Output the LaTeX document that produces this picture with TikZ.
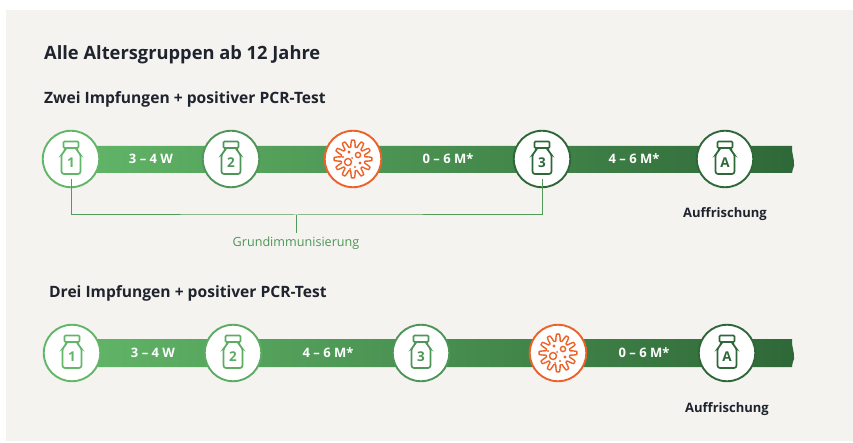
\documentclass[tikz,border=0pt]{standalone}
\usepackage{fontspec}
\setmainfont{Open Sans}
\definecolor{panel_bg}{RGB}{244,243,240}
\definecolor{vacc_a}{RGB}{98,182,104}
\definecolor{vacc_b}{RGB}{78,150,88}
\definecolor{vacc_c}{RGB}{47,104,56}
\definecolor{virus_col}{RGB}{236,98,40}
\definecolor{text_dark}{RGB}{30,35,45}
\tikzset{
    stepnode/.style={shape=circle,draw,line width=1.9pt,fill=white,minimum size=56.5pt,inner sep=0pt},
    weeklabel/.style={text=white,font=\bfseries\fontsize{13}{15}\selectfont},
    headlabel/.style={anchor=west,inner sep=0pt,text=text_dark,font=\bfseries\fontsize{15.6}{18}\selectfont},
    notelabel/.style={text=text_dark,font=\bfseries\fontsize{13}{15}\selectfont},
    vial/.pic={
        \draw[line width=1.7pt,rounded corners=1pt] (-7.5,-17.5) rectangle (7.5,-11);
        \draw[line width=1.7pt,rounded corners=2.5pt] (-6,-11) -- (-6,-8) -- (-9.5,-5) -- (-9.5,15) -- (9.5,15) -- (9.5,-5) -- (6,-8) -- (6,-11);
        \node[font=\bfseries\fontsize{13.5}{14}\selectfont] at (0,4) {\tikzpictext};
    },
    virus/.pic={
        \draw[line width=1.4pt,samples=361,domain=0:360,line join=round] plot ({(15.5+3.4*min(1,max(-1,1.7*cos(12*\x))))*cos(\x)},{(15.5+3.4*min(1,max(-1,1.7*cos(12*\x))))*sin(\x)}) -- cycle;
        \draw[line width=1.4pt] (-5,3) circle (3.5) (5,-4) circle (2.6);
        \fill (-4,-7) circle (1.6) (7,4) circle (1.6) (2,8) circle (1.1) (-10,-2) circle (1.2) (-1,-1) circle (1) (-3,10) circle (1);
    }
}
\begin{document}
\begin{tikzpicture}[x=1pt,y=-1pt]
    \useasboundingbox (0,0) rectangle (853,443);
    \fill[panel_bg] (6,10) rectangle (853,441);

    % headings
    \node[headlabel,font=\bfseries\fontsize{18.3}{20}\selectfont] (title) at (44,55) {Alle Altersgruppen ab 12 Jahre};
    \node[headlabel] (head_a) at (44,99) {Zwei Impfungen + positiver PCR-Test};
    \node[headlabel] (head_b) at (49,293) {Drei Impfungen + positiver PCR-Test};

    % first row
    \shade[left color=vacc_a,right color=vacc_c] (71,146) -- (792,146) .. controls (791,152) and (795,160) .. (794,166) .. controls (793,169) and (792,171) .. (792,173) -- (71,173) -- cycle;
    \node[stepnode,draw=vacc_a] (a_one) at (71,159) {};
    \node[stepnode,draw=vacc_b] (a_two) at (231,159) {};
    \node[stepnode,draw=virus_col] (a_virus) at (353,159) {};
    \node[stepnode,draw=vacc_c] (a_three) at (542,159) {};
    \node[stepnode,draw=vacc_c] (a_boost) at (725,159) {};
    \pic[vacc_a,pic text=1] at (a_one) {vial};
    \pic[vacc_b,pic text=2] at (a_two) {vial};
    \pic[virus_col] at (a_virus) {virus};
    \pic[vacc_c,pic text=3] at (a_three) {vial};
    \pic[vacc_c,pic text=A] at (a_boost) {vial};
    \node[weeklabel] (a_t1) at (151,159) {3 – 4 W};
    \node[weeklabel] (a_t2) at (448,159) {0 – 6 M*};
    \node[weeklabel] (a_t3) at (634,159) {4 – 6 M*};
    \node[notelabel] (a_note) at (725,214) {Auffrischung};

    % bracket
    \coordinate (a_left) at ([yshift=9pt]a_one.south);
    \coordinate (a_right) at ([yshift=9pt]a_three.south);
    \node[text=vacc_b,font=\fontsize{12.6}{14}\selectfont] (a_base) at (296,243) {Grundimmunisierung};
    \draw[vacc_a!85!black,line width=1pt] (a_left) |- (296,215) -| (a_right);
    \draw[vacc_a!85!black,line width=1pt] (296,215) -- (a_base.north);

    % second row
    \shade[left color=vacc_a,right color=vacc_c] (71,339) -- (792,339) .. controls (791,345) and (795,353) .. (794,359) .. controls (793,362) and (792,364) .. (792,367) -- (71,367) -- cycle;
    \node[stepnode,draw=vacc_a] (b_one) at (72,353) {};
    \node[stepnode,draw=vacc_a!70!vacc_b] (b_two) at (233,353) {};
    \node[stepnode,draw=vacc_b] (b_three) at (421,353) {};
    \node[stepnode,draw=virus_col] (b_virus) at (558,353) {};
    \node[stepnode,draw=vacc_c] (b_boost) at (727,353) {};
    \pic[vacc_a,pic text=1] at (b_one) {vial};
    \pic[vacc_a!70!vacc_b,pic text=2] at (b_two) {vial};
    \pic[vacc_b,pic text=3] at (b_three) {vial};
    \pic[virus_col] at (b_virus) {virus};
    \pic[vacc_c,pic text=A] at (b_boost) {vial};
    \node[weeklabel] (b_t1) at (153,353) {3 – 4 W};
    \node[weeklabel] (b_t2) at (328,353) {4 – 6 M*};
    \node[weeklabel] (b_t3) at (644,353) {0 – 6 M*};
    \node[notelabel] (b_note) at (727,409) {Auffrischung};
\end{tikzpicture}
\end{document}
